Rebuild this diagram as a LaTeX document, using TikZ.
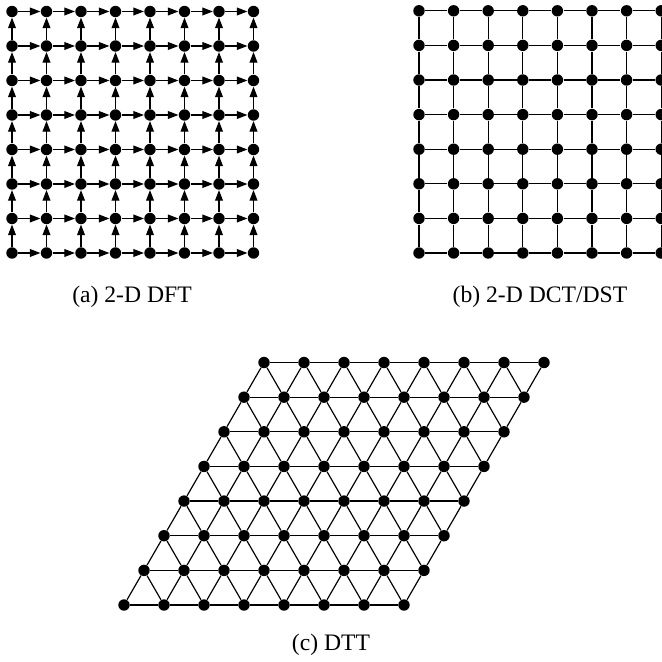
\documentclass[tikz,border=0pt]{standalone}
\usepackage{fontspec}
\setmainfont{Liberation Serif}
\usetikzlibrary{arrows.meta}
\tikzset{
  dot/.style={circle, fill=black, inner sep=0pt, minimum size=5.8pt},
  arr/.style={line width=0.6pt, -{Triangle[length=5.4pt, width=4pt]}},
  link/.style={line width=0.6pt},
  captext/.style={font=\fontsize{12}{14}\selectfont, inner sep=0pt}
}
\begin{document}
\begin{tikzpicture}[x=0.508pt, y=0.508pt]
	\clip (0,0) rectangle (662,662);
	\def\sa{34.5}
	\def\sb{34.6}
	\def\dx{40}
	\def\dy{34.64}

	% (a) 2-D DFT: arrows right and up
	\foreach \i in {0,...,7}
		\foreach \j in {0,...,7}
			\node[dot] (a-\i-\j) at (12+\i*\sa, 409+\j*\sa) {};
	\foreach \i in {0,...,6}
		\foreach \j in {0,...,7} {
			\pgfmathtruncatemacro{\n}{\i+1}
			\draw[arr] (a-\i-\j) -- (a-\n-\j);
			\draw[arr] (a-\j-\i) -- (a-\j-\n);
		}
	\node[captext] (capa) at (132,365) {(a) 2-D DFT};

	% (b) 2-D DCT/DST: plain grid
	\foreach \i in {0,...,7}
		\foreach \j in {0,...,7}
			\node[dot] (b-\i-\j) at (419+\i*\sb, 409+\j*\sb) {};
	\foreach \i in {0,...,6}
		\foreach \j in {0,...,7} {
			\pgfmathtruncatemacro{\n}{\i+1}
			\draw[link] (b-\i-\j) -- (b-\n-\j);
			\draw[link] (b-\j-\i) -- (b-\j-\n);
		}
	\node[captext] (capb) at (540,365) {(b) 2-D DCT/DST};

	% (c) DTT: triangular lattice
	\foreach \i in {0,...,7}
		\foreach \j in {0,...,7}
			\node[dot] (c-\i-\j) at (124+\i*\dx+\j*\dx/2, 57+\j*\dy) {};
	\foreach \i in {0,...,6}
		\foreach \j in {0,...,7} {
			\pgfmathtruncatemacro{\n}{\i+1}
			\draw[link] (c-\i-\j) -- (c-\n-\j);
			\draw[link] (c-\j-\i) -- (c-\j-\n);
		}
	\foreach \i in {0,...,6}
		\foreach \j in {0,...,6} {
			\pgfmathtruncatemacro{\n}{\i+1}
			\pgfmathtruncatemacro{\m}{\j+1}
			\draw[link] (c-\n-\j) -- (c-\i-\m);
		}
	\node[captext] (capc) at (331,17) {(c) DTT};
\end{tikzpicture}
\end{document}
